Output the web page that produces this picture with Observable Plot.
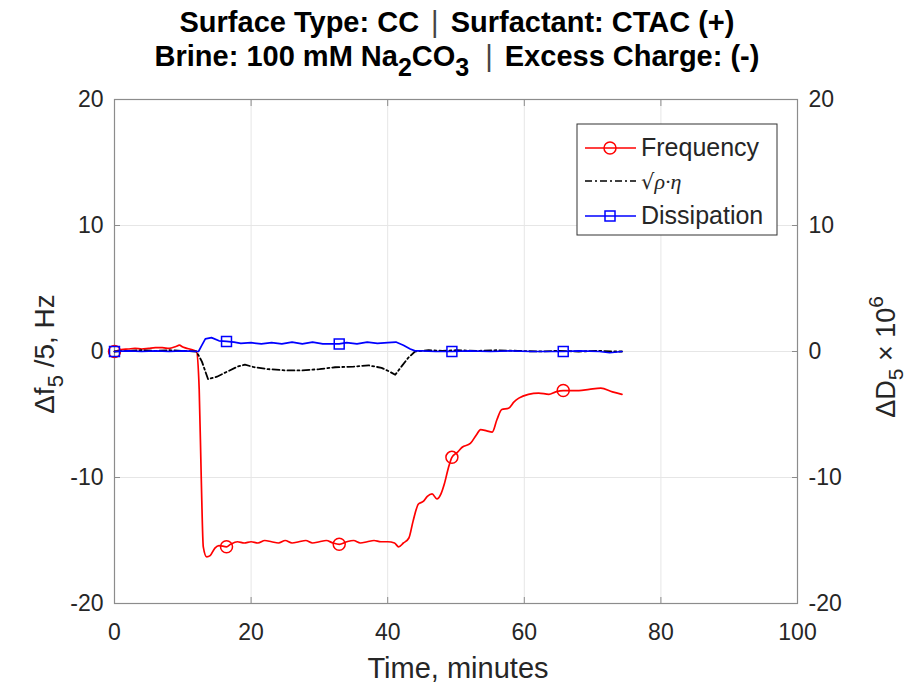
<!DOCTYPE html>
<html>
<head>
<meta charset="utf-8">
<script src="https://cdn.jsdelivr.net/npm/d3@7"></script>
<script src="https://cdn.jsdelivr.net/npm/@observablehq/plot@0.6"></script>
<style>
  html, body { margin: 0; padding: 0; background: #fff; }
  svg { display: block; }
</style>
</head>
<body>
<div id="chart"></div>
<script>
// ---- Data ----
const xTicks = [0, 20, 40, 60, 80, 100];
const yTicks = [-20, -10, 0, 10, 20];

// Frequency: Δf5/5 (Hz)
const freqT = [0,1,2,3,4,5,6,7,8,9,9.5,10,11,12,12.4,12.7,13.0,13.5,14.0,14.7,15.3,16.4,17,18,19,20,21,22,23,24,25,26,27,28,29,30,31,32,32.9,34,35,36,37,38,39,40,41,41.6,42.3,43.1,43.7,44.5,45.2,45.8,46.5,47.2,47.8,48.3,48.9,49.4,50.2,50.9,52.1,53.0,53.6,54.5,55.3,56.0,56.7,57.7,58.5,59.2,60.6,62.1,63.6,64.6,65.7,67,68,69.5,71.2,72.9,74.3];
const freqV = [0,0.15,0.2,0.25,0.2,0.25,0.3,0.3,0.25,0.4,0.5,0.35,0.2,0.0,-3,-10,-15.5,-16.3,-16.2,-15.6,-15.4,-15.5,-15.3,-15.1,-15.2,-15.1,-15.2,-15.0,-15.1,-15.2,-15.0,-15.2,-15.1,-15.0,-15.2,-15.1,-15.0,-15.2,-15.3,-15.1,-15.0,-15.2,-15.1,-15.0,-15.1,-15.1,-15.2,-15.5,-15.2,-14.8,-13.5,-12.1,-11.9,-11.5,-11.3,-11.7,-11.3,-10.5,-9.2,-8.4,-8.0,-7.6,-7.3,-6.6,-6.2,-6.3,-6.4,-5.4,-4.6,-4.5,-4.0,-3.7,-3.4,-3.3,-3.4,-3.2,-3.1,-3.1,-3.1,-3.0,-2.9,-3.2,-3.4];
const freqMarkT = [0, 16.4, 32.9, 49.4, 65.7];

// Density-viscosity √(ρ·η)
const rhoT = [0,2,4,6,8,10,12,12.8,13.7,15,16.5,18,19.1,20.5,22.5,25,27.4,30,32.3,35,37.2,39.1,40.3,41.1,42,43,44,46,48,50,53,56,59,62,65,68,71,73,74.3];
const rhoV = [0,0.05,0.1,0.05,0.1,0.05,0.0,-0.8,-2.2,-2.0,-1.6,-1.2,-1.05,-1.25,-1.4,-1.5,-1.5,-1.4,-1.25,-1.2,-1.1,-1.3,-1.6,-1.85,-1.2,-0.5,0.0,0.1,0.05,0.1,0.05,0.1,0.05,0.0,0.05,0.0,0.05,0.0,0.0];

// Dissipation: ΔD5 × 10^6
const dissT = [0,2,4,6,8,10,12.3,12.8,13.3,14.2,15.3,16.4,17.5,18.5,20,21.5,23,24.5,26,27.5,29,30.5,32.9,34,35.5,37,38.5,40,41.2,42.3,43.3,44,45,47,49.4,52,55,58,61,65.7,68,71,72.5,74.3];
const dissV = [0,0.05,0.0,0.05,0.0,0.05,0.0,0.5,1.0,1.1,0.85,0.8,0.75,0.65,0.7,0.6,0.7,0.6,0.75,0.6,0.75,0.6,0.6,0.7,0.6,0.75,0.65,0.7,0.75,0.5,0.2,0.05,0.05,0.0,0.0,0.05,0.0,0.05,0.0,0.0,0.05,0.0,-0.1,0.0];
const dissMarkT = [0, 16.4, 32.9, 49.4, 65.7];

const legendLabels = ["Frequency", "√ρ·η", "Dissipation"];

// ---- Build tables ----
const freq = freqT.map((t, i) => ({t, v: freqV[i]}));
const rho = rhoT.map((t, i) => ({t, v: rhoV[i]}));
const diss = dissT.map((t, i) => ({t, v: dissV[i]}));
const freqMarks = freq.filter(d => freqMarkT.includes(d.t));
const dissMarks = diss.filter(d => dissMarkT.includes(d.t));

const RED = "#ff0000", BLUE = "#0000ff", BLACK = "#000000";
const FRAME = "#8c8c8c", GRID = "#e6e6e6", TXT = "#262626";
const FONT = "'Liberation Sans', Arial, Helvetica, sans-serif";
const fmt = d => String(d);

const plot = Plot.plot({
  width: 914,
  height: 690,
  marginTop: 99,
  marginBottom: 87,
  marginLeft: 114,
  marginRight: 117,
  style: {fontFamily: FONT, fontSize: "23px", color: TXT, background: "#fff"},
  x: {domain: [0, 100], label: null},
  y: {domain: [-20, 20], label: null},
  marks: [
    Plot.gridX(xTicks, {stroke: GRID, strokeOpacity: 1}),
    Plot.gridY(yTicks, {stroke: GRID, strokeOpacity: 1}),
    Plot.frame({stroke: FRAME, strokeWidth: 1.2}),
    Plot.axisX(xTicks, {anchor: "bottom", tickSize: -6, tickPadding: 26, tickFormat: fmt, stroke: FRAME, fill: TXT, label: null}),
    Plot.axisX(xTicks, {anchor: "top", tickSize: -6, tickFormat: () => "", stroke: FRAME, label: null}),
    Plot.axisY(yTicks, {anchor: "left", tickSize: -6, tickPadding: 17, tickFormat: fmt, stroke: FRAME, fill: TXT, label: null}),
    Plot.axisY(yTicks, {anchor: "right", tickSize: -6, tickPadding: 17, tickFormat: fmt, stroke: FRAME, fill: TXT, label: null}),
    Plot.line(freq, {x: "t", y: "v", stroke: RED, strokeWidth: 1.7, curve: "monotone-x"}),
    Plot.dot(freqMarks, {x: "t", y: "v", r: 6, stroke: RED, fill: "none", strokeWidth: 1.5}),
    Plot.line(rho, {x: "t", y: "v", stroke: BLACK, strokeWidth: 1.8, strokeDasharray: "7,3,2,3"}),
    Plot.line(diss, {x: "t", y: "v", stroke: BLUE, strokeWidth: 1.7}),
    Plot.dot(dissMarks, {x: "t", y: "v", r: 5.6, symbol: "square", stroke: BLUE, fill: "none", strokeWidth: 1.5})
  ]
});

document.getElementById("chart").appendChild(plot);

// ---- Text with sub/superscripts and legend ----
const svg = d3.select(plot);

function title(y) {
  return svg.append("text").attr("x", 457).attr("y", y)
    .attr("text-anchor", "middle").attr("font-family", FONT)
    .attr("font-weight", "bold").attr("font-size", 29).attr("fill", "#000");
}
const t1 = title(32);
t1.append("tspan").text("Surface Type: CC");
t1.append("tspan").attr("dx", 12).attr("font-weight", "normal").attr("fill", "#444").text("|");
t1.append("tspan").attr("dx", 12).text("Surfactant: CTAC (+)");

const t2 = title(66);
t2.append("tspan").text("Brine: 100 mM Na");
t2.append("tspan").attr("dy", 10).attr("font-size", 25).text("2");
t2.append("tspan").attr("dy", -10).text("CO");
t2.append("tspan").attr("dy", 10).attr("font-size", 25).text("3");
t2.append("tspan").attr("dy", -10).attr("dx", 16).attr("font-weight", "normal").attr("fill", "#444").text("|");
t2.append("tspan").attr("dx", 12).text("Excess Charge: (-)");

// x label
svg.append("text").attr("x", 458).attr("y", 678).attr("text-anchor", "middle")
  .attr("font-family", FONT).attr("font-size", 29).attr("fill", TXT).text("Time, minutes");

// left y label
const yl = svg.append("text").attr("transform", "translate(54,354) rotate(-90)")
  .attr("text-anchor", "middle").attr("font-family", FONT).attr("font-size", 28).attr("fill", TXT);
yl.append("tspan").text("Δf");
yl.append("tspan").attr("dy", 9).attr("font-size", 22).text("5");
yl.append("tspan").attr("dy", -9).text(" /5, Hz");

// right y label
const yr = svg.append("text").attr("transform", "translate(895,357) rotate(-90)")
  .attr("text-anchor", "middle").attr("font-family", FONT).attr("font-size", 27).attr("fill", TXT);
yr.append("tspan").text("ΔD");
yr.append("tspan").attr("dy", 8).attr("font-size", 21).text("5");
yr.append("tspan").attr("dy", -8).text(" × 10");
yr.append("tspan").attr("dy", -12).attr("font-size", 21).text("6");

// legend
const lg = svg.append("g");
lg.append("rect").attr("x", 577).attr("y", 124).attr("width", 200).attr("height", 111)
  .attr("fill", "#fff").attr("stroke", "#333").attr("stroke-width", 1);
const rowsY = [148, 181, 216];
const styles = [
  {stroke: RED, dash: null, marker: "circle"},
  {stroke: BLACK, dash: "7,3,2,3", marker: null},
  {stroke: BLUE, dash: null, marker: "square"}
];
rowsY.forEach((y, i) => {
  const s = styles[i];
  lg.append("line").attr("x1", 585).attr("x2", 636).attr("y1", y).attr("y2", y)
    .attr("stroke", s.stroke).attr("stroke-width", 1.7).attr("stroke-dasharray", s.dash);
  if (s.marker === "circle") {
    lg.append("circle").attr("cx", 610).attr("cy", y).attr("r", 6)
      .attr("fill", "none").attr("stroke", s.stroke).attr("stroke-width", 1.5);
  } else if (s.marker === "square") {
    lg.append("rect").attr("x", 605).attr("y", y - 5).attr("width", 10).attr("height", 10)
      .attr("fill", "none").attr("stroke", s.stroke).attr("stroke-width", 1.5);
  }
  const tx = lg.append("text").attr("x", 641).attr("y", y + 8).attr("text-anchor", "start")
    .attr("font-family", FONT).attr("font-size", 25).attr("fill", TXT);
  if (i === 1) {
    tx.append("tspan").attr("font-family", "'DejaVu Serif', serif").attr("font-size", 21).text("√");
    tx.append("tspan").attr("font-family", "'Liberation Serif', serif").attr("font-style", "italic").attr("font-size", 22).text("ρ·η");
  } else {
    tx.text(legendLabels[i]);
  }
});
</script>
</body>
</html>
